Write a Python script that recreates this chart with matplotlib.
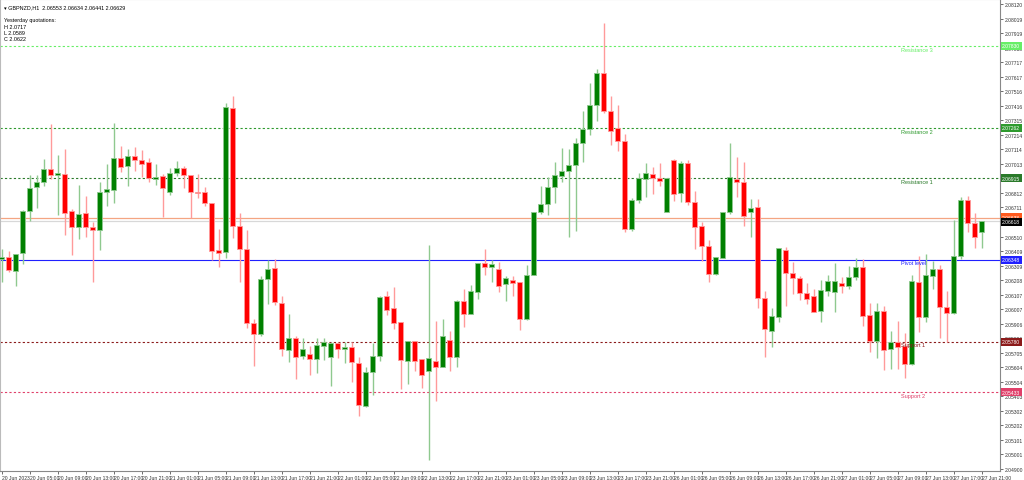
import numpy as np
import matplotlib.pyplot as plt

plt.rcParams['font.family'] = ['Liberation Sans', 'DejaVu Sans']

# GBPNZD H1 candles
opens = [2.06354, 2.06368, 2.06271, 2.06396, 2.06687, 2.06853, 2.06888, 2.06978, 2.06936, 2.06943,
         2.06687, 2.06576, 2.06673, 2.06576, 2.06555, 2.06819, 2.06832, 2.07054, 2.06999, 2.07068,
         2.07040, 2.07026, 2.06909, 2.06929, 2.06819, 2.06950, 2.06985, 2.06936, 2.06819, 2.06819,
         2.06742, 2.06417, 2.06403, 2.07400, 2.06583, 2.06424, 2.05911, 2.05835, 2.06216, 2.06292,
         2.06050, 2.05724, 2.05807, 2.05683, 2.05697, 2.05662, 2.05752, 2.05676, 2.05773, 2.05731,
         2.05745, 2.05634, 2.05337, 2.05572, 2.05683, 2.06098, 2.06015, 2.05918, 2.05648, 2.05787,
         2.05662, 2.05579, 2.05648, 2.05607, 2.05794, 2.05676, 2.06064, 2.05974, 2.06126, 2.06327,
         2.06299, 2.06285, 2.06181, 2.06209, 2.06195, 2.05939, 2.06244, 2.06680, 2.06735, 2.06853,
         2.06929, 2.06964, 2.07005, 2.07158, 2.07255, 2.07421, 2.07642, 2.07379, 2.07262, 2.07172,
         2.06562, 2.06763, 2.06909, 2.06943, 2.06915, 2.06680, 2.07040, 2.06812, 2.07019, 2.06749,
         2.06583, 2.06444, 2.06251, 2.06361, 2.06680, 2.06909, 2.06888, 2.06680, 2.06715, 2.06084,
         2.05856, 2.05953, 2.06417, 2.06258, 2.06223, 2.06119, 2.06098, 2.05994, 2.06133, 2.06126,
         2.06188, 2.06168, 2.06230, 2.06299, 2.05967, 2.05787, 2.05994, 2.05731, 2.05780, 2.05752,
         2.05627, 2.06195, 2.05953, 2.06237, 2.06285, 2.06022, 2.05981, 2.06375, 2.06763, 2.06604,
         2.06541]
highs = [2.06424, 2.06410, 2.06389, 2.06694, 2.06936, 2.06936, 2.07047, 2.07289, 2.07075, 2.07116,
         2.06701, 2.06867, 2.06791, 2.06611, 2.06888, 2.07012, 2.07296, 2.07137, 2.07116, 2.07130,
         2.07109, 2.07054, 2.07012, 2.06943, 2.06985, 2.07033, 2.06999, 2.06936, 2.06943, 2.06853,
         2.06742, 2.06562, 2.07435, 2.07483, 2.06673, 2.06555, 2.05939, 2.06237, 2.06348, 2.06354,
         2.06098, 2.05974, 2.05821, 2.05807, 2.05752, 2.05807, 2.05807, 2.05780, 2.05780, 2.05780,
         2.05780, 2.05676, 2.05607, 2.05773, 2.06098, 2.06133, 2.06161, 2.05918, 2.05787, 2.05787,
         2.05662, 2.06451, 2.05925, 2.05939, 2.05856, 2.06071, 2.06147, 2.06174, 2.06327, 2.06424,
         2.06348, 2.06334, 2.06237, 2.06237, 2.06195, 2.06313, 2.06680, 2.06860, 2.06922, 2.07026,
         2.07123, 2.07116, 2.07192, 2.07379, 2.07573, 2.07670, 2.07989, 2.07483, 2.07421, 2.07220,
         2.06777, 2.06950, 2.07019, 2.06992, 2.07019, 2.06915, 2.07047, 2.07033, 2.07040, 2.06825,
         2.06611, 2.06486, 2.06368, 2.06680, 2.07158, 2.07061, 2.07026, 2.06770, 2.06770, 2.06133,
         2.06015, 2.06431, 2.06438, 2.06334, 2.06237, 2.06188, 2.06147, 2.06209, 2.06244, 2.06327,
         2.06230, 2.06306, 2.06361, 2.06354, 2.06050, 2.06050, 2.06029, 2.05856, 2.05925, 2.05842,
         2.06244, 2.06375, 2.06389, 2.06341, 2.06313, 2.06133, 2.06625, 2.06784, 2.06791, 2.06673,
         2.06618]
lows = [2.06195, 2.06265, 2.06168, 2.06320, 2.06618, 2.06708, 2.06860, 2.06909, 2.06659, 2.06521,
        2.06382, 2.06493, 2.06507, 2.06195, 2.06417, 2.06722, 2.06742, 2.06957, 2.06860, 2.06964,
        2.06922, 2.06888, 2.06867, 2.06645, 2.06798, 2.06929, 2.06846, 2.06638, 2.06777, 2.06722,
        2.06348, 2.06299, 2.06361, 2.06500, 2.06195, 2.05877, 2.05614, 2.05821, 2.06043, 2.06036,
        2.05683, 2.05641, 2.05524, 2.05662, 2.05551, 2.05565, 2.05655, 2.05475, 2.05669, 2.05634,
        2.05503, 2.05267, 2.05330, 2.05413, 2.05648, 2.05967, 2.05870, 2.05454, 2.05489, 2.05579,
        2.05461, 2.04963, 2.05371, 2.05607, 2.05579, 2.05607, 2.05884, 2.05974, 2.06078, 2.06244,
        2.06195, 2.06126, 2.06064, 2.06098, 2.05863, 2.05932, 2.06244, 2.06666, 2.06659, 2.06742,
        2.06888, 2.06507, 2.06548, 2.07026, 2.07213, 2.07310, 2.07365, 2.07144, 2.07102, 2.06541,
        2.06548, 2.06742, 2.06784, 2.06805, 2.06860, 2.06680, 2.06756, 2.06749, 2.06728, 2.06424,
        2.06341, 2.06195, 2.06244, 2.06361, 2.06666, 2.06784, 2.06583, 2.06507, 2.06015, 2.05676,
        2.05745, 2.05918, 2.06029, 2.06112, 2.06071, 2.06043, 2.05988, 2.05918, 2.06098, 2.05988,
        2.06119, 2.06147, 2.06209, 2.05891, 2.05711, 2.05669, 2.05586, 2.05593, 2.05593, 2.05530,
        2.05620, 2.05849, 2.05918, 2.06147, 2.05807, 2.05780, 2.05974, 2.06354, 2.06541, 2.06431,
        2.06431]
closes = [2.06368, 2.06278, 2.06389, 2.06687, 2.06846, 2.06888, 2.06978, 2.06936, 2.06950, 2.06673,
          2.06576, 2.06666, 2.06576, 2.06555, 2.06819, 2.06839, 2.07054, 2.06992, 2.07068, 2.07040,
          2.07012, 2.06915, 2.06922, 2.06846, 2.06950, 2.06985, 2.06936, 2.06819, 2.06812, 2.06742,
          2.06410, 2.06396, 2.07407, 2.06583, 2.06424, 2.05911, 2.05835, 2.06216, 2.06285, 2.06057,
          2.05731, 2.05807, 2.05676, 2.05731, 2.05662, 2.05759, 2.05780, 2.05773, 2.05731, 2.05745,
          2.05641, 2.05343, 2.05572, 2.05683, 2.06091, 2.06001, 2.05911, 2.05655, 2.05787, 2.05648,
          2.05551, 2.05669, 2.05607, 2.05821, 2.05676, 2.06064, 2.05974, 2.06133, 2.06327, 2.06299,
          2.06320, 2.06168, 2.06223, 2.06188, 2.05939, 2.06244, 2.06680, 2.06735, 2.06853, 2.06936,
          2.06964, 2.07005, 2.07158, 2.07255, 2.07421, 2.07642, 2.07379, 2.07241, 2.07172, 2.06562,
          2.06763, 2.06915, 2.06950, 2.06915, 2.06895, 2.06915, 2.06805, 2.07019, 2.06749, 2.06576,
          2.06444, 2.06251, 2.06368, 2.06680, 2.06922, 2.06888, 2.06652, 2.06708, 2.06084, 2.05870,
          2.05960, 2.06431, 2.06258, 2.06223, 2.06119, 2.06078, 2.05988, 2.06140, 2.06202, 2.06202,
          2.06168, 2.06230, 2.06299, 2.05960, 2.05787, 2.05994, 2.05724, 2.05780, 2.05745, 2.05627,
          2.06202, 2.05953, 2.06244, 2.06285, 2.06022, 2.05981, 2.06375, 2.06763, 2.06604, 2.06507,
          2.06618]

days = ['20 Jun', '21 Jun', '22 Jun', '23 Jun', '26 Jun', '27 Jun']
hours = ['01:00', '05:00', '09:00', '13:00', '17:00', '21:00']

level_names = ['Resistance 3', 'Resistance 2', 'Resistance 1', 'Pivot level', 'Support 1', 'Support 2']
level_values = [2.07830, 2.07262, 2.06915, 2.06348, 2.05780, 2.05433]
level_colors = ['#66ee66', '#2e9a2e', '#2a7a2a', '#2020ff', '#8b1a1a', '#e0406a']
ask_price = 2.06638
ytick_values = np.linspace(2.0490, 2.0812, 33)

FS = 3.6

fig = plt.figure(figsize=(10.24, 4.81), dpi=100)
ax = fig.add_axes([0.0, 9/481, 1000/1024, 472/481])
ax.set_facecolor('white')

n = len(opens)
x = np.arange(n)
for i in x:
    up = closes[i] >= opens[i]
    body = '#008000' if up else '#ff0000'
    wick = '#8fc98f' if up else '#ff9a9a'
    ax.vlines(i, lows[i], highs[i], color=wick, lw=1, zorder=2)
    lo, hi = min(opens[i], closes[i]), max(opens[i], closes[i])
    ax.bar(i, max(hi - lo, 0.00003), bottom=lo, width=0.72, color=body,
           edgecolor=wick, linewidth=0.6, zorder=3)

# pivot levels
for name, v, c in zip(level_names, level_values, level_colors):
    ls = '-' if name == 'Pivot level' else (0, (2, 2))
    ax.axhline(v, color=c, lw=0.8, ls=ls, zorder=1)
    ax.text(128.5, v - 0.00004, name, color=c, fontsize=FS + 0.4, va='top', ha='left')
    ax.text(1.002, v, '%.5f' % v, transform=ax.get_yaxis_transform(), fontsize=FS,
            color='white', va='center', ha='left',
            bbox=dict(boxstyle='square,pad=0.3', fc=c, ec='none'), clip_on=False, zorder=5)

ax.axhline(ask_price, color='#f4a582', lw=0.9, zorder=1)
ax.axhline(closes[-1], color='#d8d8d8', lw=0.9, zorder=1)
ax.text(1.002, ask_price + 0.00006, '%.5f' % ask_price, transform=ax.get_yaxis_transform(),
        fontsize=FS, color='white', va='center', ha='left',
        bbox=dict(boxstyle='square,pad=0.3', fc='#ff5a1e', ec='none'), clip_on=False, zorder=5)
ax.text(1.002, closes[-1] - 0.00006, '%.5f' % closes[-1], transform=ax.get_yaxis_transform(),
        fontsize=FS, color='white', va='center', ha='left',
        bbox=dict(boxstyle='square,pad=0.3', fc='black', ec='none'), clip_on=False, zorder=5)

ax.set_xlim(-0.25, 142.6)
ax.set_ylim(2.04886, 2.08155)

ax.yaxis.tick_right()
ax.set_yticks(ytick_values)
ax.set_yticklabels(['%.5f' % v for v in ytick_values])
xt = np.arange(0, n, 4)
labels = []
for k in range(len(xt)):
    d, h = days[k // 6], hours[k % 6]
    labels.append('20 Jun 2023' if k == 0 else d + ' ' + h)
ax.set_xticks(xt)
ax.set_xticklabels(labels, ha='left')
ax.tick_params(labelsize=FS, length=2, width=0.5, colors='#333333', pad=1.2)
for s in ['top', 'left']:
    ax.spines[s].set_color('#bbbbbb')
for s in ['right', 'bottom']:
    ax.spines[s].set_color('#888888')

fig.text(0.004, 0.99, '\u25be GBPNZD,H1  2.06553 2.06634 2.06441 2.06629', fontsize=FS + 0.3, va='top')
fig.text(0.004, 0.962, 'Yesterday quotations:\nH 2.0717\nL 2.0589\nC 2.0622',
         fontsize=FS + 0.3, va='top', linespacing=1.35)

fig.savefig('out.png', dpi=100)
